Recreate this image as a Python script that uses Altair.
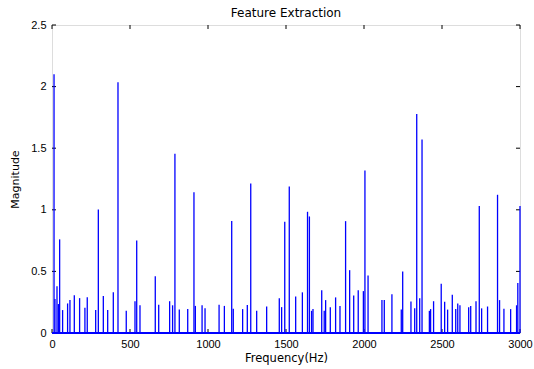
import altair as alt
import pandas as pd

# Spectral peaks: frequency (Hz) and magnitude
freq_hz = [13, 19, 32, 41, 49, 68, 100, 115, 143, 177, 211, 226, 280, 297, 329,
           357, 393, 423, 476, 532, 543, 564, 662, 684, 754, 773, 788, 816, 870,
           910, 919, 962, 981, 1071, 1105, 1152, 1162, 1222, 1252, 1274, 1312,
           1376, 1457, 1472, 1492, 1521, 1562, 1605, 1638, 1650, 1664, 1673,
           1729, 1745, 1754, 1784, 1818, 1846, 1882, 1908, 1934, 1963, 1996,
           2006, 2026, 2115, 2130, 2179, 2239, 2248, 2301, 2325, 2338, 2357,
           2372, 2419, 2427, 2446, 2495, 2517, 2536, 2566, 2588, 2601, 2615,
           2671, 2684, 2718, 2739, 2754, 2792, 2856, 2869, 2897, 2940, 2978,
           2986, 3000]
magnitude = [2.10, 0.275, 0.38, 0.235, 0.76, 0.186, 0.24, 0.267, 0.307, 0.283,
             0.205, 0.291, 0.186, 1.003, 0.30, 0.186, 0.33, 2.036, 0.18, 0.258,
             0.75, 0.225, 0.46, 0.23, 0.258, 0.225, 1.454, 0.19, 0.194, 1.143,
             0.22, 0.225, 0.20, 0.23, 0.22, 0.91, 0.197, 0.194, 0.227, 1.213,
             0.18, 0.215, 0.283, 0.21, 0.903, 1.19, 0.297, 0.33, 0.984, 0.946,
             0.18, 0.194, 0.348, 0.18, 0.267, 0.21, 0.289, 0.22, 0.908, 0.51,
             0.305, 0.348, 0.34, 1.319, 0.467, 0.267, 0.267, 0.315, 0.19, 0.50,
             0.256, 0.20, 1.777, 0.283, 1.57, 0.18, 0.194, 0.258, 0.40, 0.253,
             0.19, 0.31, 0.194, 0.24, 0.225, 0.21, 0.22, 0.258, 1.03, 0.20,
             0.215, 1.122, 0.267, 0.197, 0.194, 0.225, 0.405, 1.03]

x_ticks = [0, 500, 1000, 1500, 2000, 2500, 3000]
y_ticks = [0, 0.5, 1, 1.5, 2, 2.5]

W, H = 468, 308
TITLE_FONT = "DejaVu Sans"
LABEL_FONT = "Liberation Sans"
BLUE = "#0000ff"

spikes = pd.DataFrame({"f": freq_hz, "m": magnitude, "z": [0] * len(freq_hz)})
xs = alt.Scale(domain=[0, 3000], nice=False, zero=False)
ys = alt.Scale(domain=[0, 2.5], nice=False)

x_axis = alt.Axis(values=x_ticks, format="d", title="Frequency(Hz)", ticks=False,
                  domain=False, grid=False, labelPadding=5, titlePadding=3,
                  labelFlush=False, labelOverlap=False,
                  titleFontWeight="normal", labelFont=LABEL_FONT,
                  titleFont=TITLE_FONT, labelFontSize=11, titleFontSize=11.5)
y_axis = alt.Axis(values=y_ticks, format="~g", title="Magnitude", ticks=False,
                  domain=False, grid=False, labelPadding=6, titlePadding=10,
                  labelFlush=False, labelOverlap=False,
                  titleFontWeight="normal", labelFont=LABEL_FONT,
                  titleFont=TITLE_FONT, labelFontSize=11, titleFontSize=11)

spike_layer = alt.Chart(spikes).mark_rule(color=BLUE, strokeWidth=1.3).encode(
    x=alt.X("f:Q", scale=xs, axis=x_axis),
    y=alt.Y("m:Q", scale=ys, axis=y_axis),
    y2="z:Q",
)

baseline = alt.Chart(pd.DataFrame({"a": [0], "b": [3000], "y": [0]})).mark_rule(
    color=BLUE, strokeWidth=2
).encode(x=alt.X("a:Q", scale=xs), x2="b:Q", y=alt.Y("y:Q", scale=ys))

# Inward-pointing tick marks on all four sides of the box
xt = pd.DataFrame({"t": x_ticks})
yt = pd.DataFrame({"t": y_ticks})
tick_bottom = alt.Chart(xt).mark_rule(color="black").encode(
    x=alt.X("t:Q", scale=xs), y=alt.value(H), y2=alt.value(H - 4))
tick_top = alt.Chart(xt).mark_rule(color="black").encode(
    x=alt.X("t:Q", scale=xs), y=alt.value(0), y2=alt.value(4))
tick_left = alt.Chart(yt).mark_rule(color="black").encode(
    y=alt.Y("t:Q", scale=ys), x=alt.value(0), x2=alt.value(4))
tick_right = alt.Chart(yt).mark_rule(color="black").encode(
    y=alt.Y("t:Q", scale=ys), x=alt.value(W - 4), x2=alt.value(W))

chart = alt.layer(
    tick_bottom, tick_top, tick_left, tick_right, spike_layer, baseline
).properties(
    width=W,
    height=H,
    autosize="none",
    padding={"left": 52, "top": 25, "right": 14, "bottom": 36},
    title=alt.TitleParams("Feature Extraction", font=TITLE_FONT, fontSize=12,
                          fontWeight="normal", color="black", offset=-1),
).configure_view(
    stroke="black", strokeWidth=1
).configure_axis(
    labelColor="black", titleColor="black"
).configure(background="white")

chart.save("out.html", embed_options={"renderer": "svg", "actions": False})
